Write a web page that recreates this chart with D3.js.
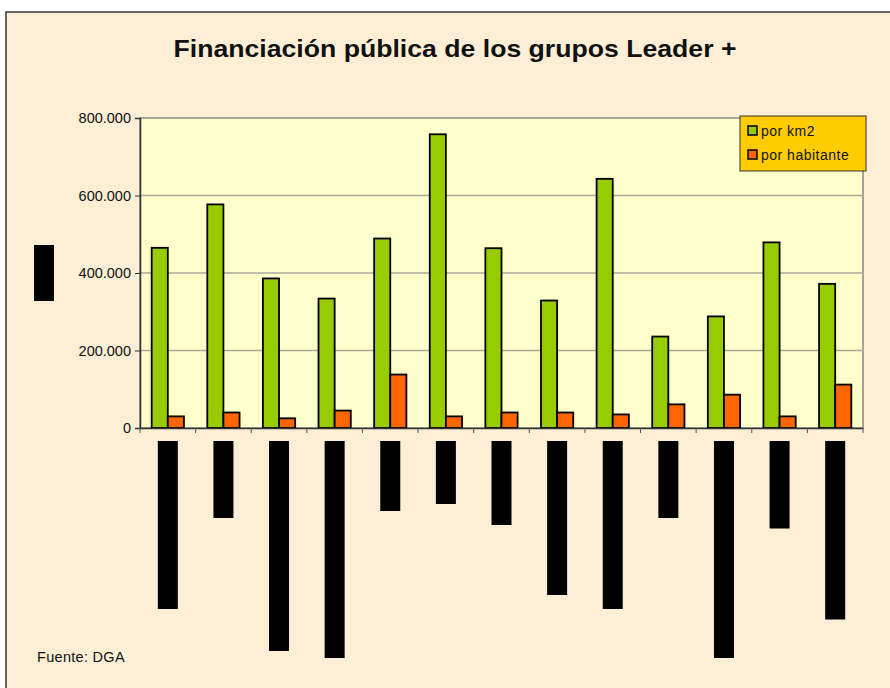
<!DOCTYPE html>
<html>
<head>
<meta charset="utf-8">
<script src="https://cdn.jsdelivr.net/npm/d3@7"></script>
<style>
  body { margin: 0; background: #fff; }
  svg { display: block; font-family: "Liberation Sans", Arial, sans-serif; }
</style>
</head>
<body>
<svg id="chart" width="890" height="688"></svg>
<script>
// categories (the original labels only show up as black boxes)
const groups = d3.range(1, 14).map(d => "G" + d);
const porKm2 = [465000, 577000, 386000, 334000, 489000, 758000, 464000, 329000, 643000, 236000, 288000, 479000, 372000];
const porHabitante = [30000, 40000, 25000, 45000, 138000, 30000, 40000, 40000, 35000, 61000, 86000, 30000, 112000];
// length of each hidden category label, in characters
const labelChars = [24, 11, 30, 31, 10, 9, 12, 22, 24, 11, 31, 12.5, 25.5];
const yTicks = [0, 200000, 400000, 600000, 800000];
const seriesNames = ["por km2", "por habitante"];
const colors = ["#99cc00", "#ff6600"];

const svg = d3.select("#chart");
const margin = { left: 140, top: 118, right: 863, bottom: 428 };

// parchment frame
svg.append("rect")
  .attr("x", 6).attr("y", 12)
  .attr("width", 900).attr("height", 700)
  .attr("fill", "#fcefd5")
  .attr("stroke", "#333").attr("stroke-width", 1.5);

svg.append("text")
  .attr("x", 455).attr("y", 57)
  .attr("text-anchor", "middle")
  .attr("font-size", 24).attr("font-weight", "bold")
  .attr("textLength", 563).attr("lengthAdjust", "spacingAndGlyphs")
  .attr("fill", "#111")
  .text("Financiación pública de los grupos Leader +");

const x = d3.scaleBand()
  .domain(groups)
  .range([margin.left, margin.right]);

const y = d3.scaleLinear()
  .domain([0, 800000])
  .range([margin.bottom, margin.top]);

const barW = x.bandwidth() * 0.29;

// plot area
svg.append("rect")
  .attr("x", margin.left).attr("y", margin.top)
  .attr("width", margin.right - margin.left)
  .attr("height", margin.bottom - margin.top)
  .attr("fill", "#ffffcc")
  .attr("stroke", "#888").attr("stroke-width", 1.5);

svg.append("g")
  .selectAll("line")
  .data(yTicks.slice(1, -1))
  .join("line")
  .attr("x1", margin.left).attr("x2", margin.right)
  .attr("y1", d => y(d)).attr("y2", d => y(d))
  .attr("stroke", "#aaa89a").attr("stroke-width", 1.5);

// bars
const series = [porKm2, porHabitante];
series.forEach((vals, s) => {
  svg.append("g")
    .selectAll("rect")
    .data(vals)
    .join("rect")
    .attr("x", (d, i) => x(groups[i]) + x.bandwidth() / 2 - barW + s * barW)
    .attr("y", d => y(d))
    .attr("width", barW)
    .attr("height", d => y(0) - y(d))
    .attr("fill", colors[s])
    .attr("stroke", "#000").attr("stroke-width", 1.8);
});

// axes
const yAxis = d3.axisLeft(y)
  .tickValues(yTicks)
  .tickSize(5)
  .tickFormat(d => d3.format(",")(d).replace(/,/g, "."));

svg.append("g")
  .attr("transform", `translate(${margin.left},0)`)
  .call(yAxis)
  .call(g => g.select(".domain").attr("stroke", "#333").attr("stroke-width", 1.5))
  .call(g => g.selectAll(".tick line").attr("stroke", "#333"))
  .call(g => g.selectAll(".tick text")
    .attr("x", -9)
    .attr("font-size", 14.5).attr("fill", "#111")
    .attr("font-family", "Liberation Sans, Arial, sans-serif"));

const xAxis = d3.axisBottom(x).tickSize(0).tickFormat("");
svg.append("g")
  .attr("transform", `translate(0,${margin.bottom})`)
  .call(xAxis)
  .call(g => g.select(".domain").attr("stroke", "#333").attr("stroke-width", 1.5));

// category boundary ticks
svg.append("g")
  .selectAll("line")
  .data(groups.concat(["end"]))
  .join("line")
  .attr("x1", (d, i) => margin.left + i * x.step())
  .attr("x2", (d, i) => margin.left + i * x.step())
  .attr("y1", margin.bottom).attr("y2", margin.bottom + 5)
  .attr("stroke", "#555");

// category labels, rendered as solid black boxes
const charW = 7;
svg.append("g")
  .selectAll("rect")
  .data(labelChars)
  .join("rect")
  .attr("x", (d, i) => x(groups[i]) + x.bandwidth() / 2 - 10)
  .attr("y", margin.bottom + 13)
  .attr("width", 20)
  .attr("height", d => d * charW)
  .attr("fill", "#000");

// y axis title, also a black box
svg.append("rect")
  .attr("x", 34).attr("y", 245)
  .attr("width", 20).attr("height", 8 * charW)
  .attr("fill", "#000");

// legend
const legend = svg.append("g").attr("transform", "translate(740,116)");
legend.append("rect")
  .attr("width", 126).attr("height", 55)
  .attr("fill", "#ffcc00")
  .attr("stroke", "#333").attr("stroke-width", 1);
const item = legend.selectAll("g.item")
  .data(seriesNames)
  .join("g")
  .attr("class", "item")
  .attr("transform", (d, i) => `translate(8,${15 + i * 24})`);
item.append("rect")
  .attr("x", 0).attr("y", -5)
  .attr("width", 9).attr("height", 9)
  .attr("fill", (d, i) => colors[i])
  .attr("stroke", "#000").attr("stroke-width", 1.5);
item.append("text")
  .attr("x", 13).attr("y", 5)
  .attr("font-size", 14).attr("letter-spacing", 0.5)
  .attr("fill", "#111")
  .text(d => d);

svg.append("text")
  .attr("x", 37).attr("y", 662)
  .attr("font-size", 14.5).attr("letter-spacing", 0.3)
  .attr("fill", "#111")
  .text("Fuente: DGA");
</script>
</body>
</html>
